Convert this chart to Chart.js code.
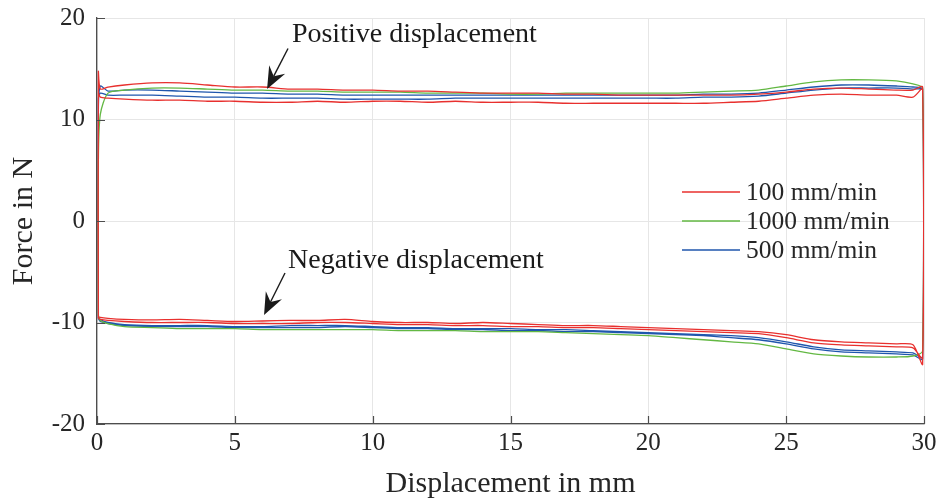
<!DOCTYPE html>
<html>
<head>
<meta charset="utf-8">
<script src="https://cdn.jsdelivr.net/npm/chart.js@4.4.1/dist/chart.umd.min.js"></script>
<style>
  html, body { margin: 0; padding: 0; background: #fff; }
  #wrap { width: 941px; height: 502px; }
</style>
</head>
<body>
<div id="wrap"><canvas id="forceChart"></canvas></div>
<script>
// displacement samples (mm), shared by every curve
const xs = [0.05, 0.12, 0.4, 1, 2, 3, 4, 5, 6, 7, 8, 9, 10, 11, 12, 13, 14, 15, 16, 17, 18, 19, 20,
  21, 22, 23, 24, 25, 26, 27, 28, 29, 29.6, 29.95];

// force (N) while moving forward (positive displacement) and back (negative displacement)
const redPushA = [14.7, 13.0, 13.2, 13.4, 13.6, 13.6, 13.4, 13.2, 13.2, 13.0, 13.0, 12.9, 12.9, 12.8, 12.8, 12.7, 12.6,
  12.6, 12.6, 12.5, 12.5, 12.4, 12.4, 12.4, 12.4, 12.4, 12.5, 12.7, 13.0, 13.1, 13.0, 12.9, 12.9, 13.2];
const redPullA = [-9.4, -9.5, -9.6, -9.7, -9.75, -9.7, -9.8, -9.9, -9.85, -9.8, -9.8, -9.7, -9.9, -10.0, -10.0, -10.1, -10.0,
  -10.1, -10.2, -10.3, -10.3, -10.4, -10.5, -10.6, -10.7, -10.8, -10.9, -11.2, -11.7, -11.9, -12.0, -12.1, -12.2, -14.1];
const redPushB = [12.6, 12.2, 12.1, 12.0, 11.9, 11.9, 11.8, 11.8, 11.7, 11.7, 11.8, 11.7, 11.8, 11.8, 11.7, 11.8, 11.7,
  11.7, 11.7, 11.6, 11.6, 11.6, 11.6, 11.6, 11.6, 11.7, 11.8, 12.1, 12.4, 12.5, 12.4, 12.4, 12.2, 13.0];
const redPullB = [-9.6, -9.7, -9.8, -9.9, -10.0, -10.0, -10.0, -10.1, -10.1, -10.1, -10.0, -10.0, -10.1, -10.2, -10.2, -10.3, -10.3,
  -10.4, -10.4, -10.5, -10.5, -10.6, -10.7, -10.8, -10.9, -11.0, -11.1, -11.5, -12.0, -12.2, -12.3, -12.4, -12.5, -13.5];

const greenPush = [6.0, 10.5, 12.6, 12.9, 13.1, 13.1, 13.0, 12.9, 12.9, 12.8, 12.8, 12.7, 12.7, 12.7, 12.6, 12.6, 12.6,
  12.5, 12.5, 12.6, 12.6, 12.6, 12.6, 12.6, 12.7, 12.8, 12.9, 13.3, 13.7, 13.9, 13.9, 13.8, 13.5, 13.1];
const greenPull = [-9.3, -9.8, -10.1, -10.4, -10.5, -10.6, -10.6, -10.6, -10.7, -10.7, -10.7, -10.7, -10.7, -10.8, -10.8, -10.8, -10.9,
  -10.9, -10.9, -11.0, -11.1, -11.2, -11.3, -11.5, -11.7, -11.9, -12.1, -12.6, -13.1, -13.3, -13.4, -13.4, -13.3, -12.8];

const bluePushA = [11.0, 13.3, 12.8, 12.9, 12.9, 12.8, 12.7, 12.6, 12.6, 12.5, 12.5, 12.4, 12.4, 12.4, 12.4, 12.4, 12.4,
  12.4, 12.4, 12.4, 12.4, 12.4, 12.4, 12.4, 12.5, 12.5, 12.6, 12.9, 13.2, 13.4, 13.4, 13.3, 13.2, 13.0];
const bluePullA = [-9.4, -9.7, -10.0, -10.2, -10.3, -10.3, -10.3, -10.4, -10.4, -10.3, -10.3, -10.3, -10.4, -10.5, -10.5, -10.6, -10.6,
  -10.6, -10.7, -10.7, -10.8, -10.9, -11.0, -11.1, -11.2, -11.3, -11.5, -11.9, -12.4, -12.7, -12.8, -12.9, -13.0, -13.4];
const bluePushB = [12.0, 12.6, 12.4, 12.4, 12.4, 12.3, 12.2, 12.2, 12.1, 12.1, 12.1, 12.0, 12.0, 12.0, 12.0, 12.1, 12.1,
  12.1, 12.1, 12.1, 12.1, 12.1, 12.1, 12.1, 12.2, 12.2, 12.3, 12.6, 12.9, 13.1, 13.1, 13.1, 13.0, 12.9];
const bluePullB = [-9.6, -9.9, -10.1, -10.3, -10.4, -10.4, -10.4, -10.5, -10.5, -10.5, -10.5, -10.4, -10.5, -10.6, -10.6, -10.7, -10.7,
  -10.8, -10.8, -10.9, -10.9, -11.0, -11.1, -11.2, -11.3, -11.5, -11.7, -12.1, -12.6, -12.9, -13.0, -13.1, -13.2, -13.6];

const labels = ['100 mm/min', '1000 mm/min', '500 mm/min'];
const colors = ['#e8302e', '#63b843', '#1f56ad'];

const SERIF = "'Liberation Serif', 'Times New Roman', serif";
const TEXT = '#262626';
const AXIS = '#4d4d4d';

// forward pass then return pass, for each cycle; starts where the last return ends so the loop closes
function loop(cycles) {
  const last = cycles[cycles.length - 1][1];
  const pts = [{ x: xs[0], y: last[0] }];
  cycles.forEach(([push, pull]) => {
    xs.forEach((x, i) => pts.push({ x, y: push[i] }));
    for (let i = xs.length - 1; i >= 0; i--) pts.push({ x: xs[i], y: pull[i] });
  });
  return pts;
}

const curves = [
  loop([[redPushA, redPullA], [redPushB, redPullB]]),
  loop([[greenPush, greenPull]]),
  loop([[bluePushA, bluePullA], [bluePushB, bluePullB]]),
];

// ticks pointing into the plot, matlab style
const inwardTicks = {
  id: 'inwardTicks',
  afterDraw(chart) {
    const { ctx, chartArea, scales } = chart;
    ctx.save();
    ctx.strokeStyle = AXIS;
    ctx.lineWidth = 1.2;
    ctx.beginPath();
    scales.x.ticks.forEach((t) => {
      const px = Math.round(scales.x.getPixelForValue(t.value)) + 0.5;
      ctx.moveTo(px, chartArea.bottom);
      ctx.lineTo(px, chartArea.bottom - 8);
    });
    scales.y.ticks.forEach((t) => {
      const py = Math.round(scales.y.getPixelForValue(t.value)) + 0.5;
      ctx.moveTo(chartArea.left, py);
      ctx.lineTo(chartArea.left + 8, py);
    });
    ctx.stroke();
    ctx.restore();
  },
};

const notes = [
  { text: 'Positive displacement', at: [7.07, 17.64], tail: [6.93, 17.0], tip: [6.17, 13.0] },
  { text: 'Negative displacement', at: [6.93, -4.63], tail: [6.82, -5.12], tip: [6.06, -9.26] },
];

const annotations = {
  id: 'annotations',
  afterDatasetsDraw(chart) {
    const { ctx, scales } = chart;
    ctx.save();
    ctx.font = `28px ${SERIF}`;
    ctx.fillStyle = '#1a1a1a';
    ctx.strokeStyle = '#1a1a1a';
    ctx.textAlign = 'left';
    ctx.textBaseline = 'alphabetic';
    notes.forEach((n) => {
      ctx.fillText(n.text, scales.x.getPixelForValue(n.at[0]), scales.y.getPixelForValue(n.at[1]));
      const x0 = scales.x.getPixelForValue(n.tail[0]);
      const y0 = scales.y.getPixelForValue(n.tail[1]);
      const x1 = scales.x.getPixelForValue(n.tip[0]);
      const y1 = scales.y.getPixelForValue(n.tip[1]);
      const len = Math.hypot(x1 - x0, y1 - y0);
      const ux = (x1 - x0) / len, uy = (y1 - y0) / len;
      const nx = -uy, ny = ux;
      const L = 22, W = 9;
      const bx = x1 - L * ux, by = y1 - L * uy;
      const kx = x1 - 0.66 * L * ux, ky = y1 - 0.66 * L * uy;
      ctx.lineWidth = 1.4;
      ctx.beginPath();
      ctx.moveTo(x0, y0);
      ctx.lineTo(kx, ky);
      ctx.stroke();
      ctx.beginPath();
      ctx.moveTo(x1, y1);
      ctx.lineTo(bx + W * nx, by + W * ny);
      ctx.lineTo(kx, ky);
      ctx.lineTo(bx - W * nx, by - W * ny);
      ctx.closePath();
      ctx.fill();
    });
    ctx.restore();
  },
};

const legendBox = {
  id: 'legendBox',
  afterDatasetsDraw(chart) {
    const { ctx } = chart;
    ctx.save();
    ctx.font = `25.5px ${SERIF}`;
    ctx.textAlign = 'left';
    ctx.textBaseline = 'middle';
    chart.data.datasets.forEach((ds, i) => {
      const y = 192 + i * 29;
      ctx.strokeStyle = ds.borderColor;
      ctx.lineWidth = 1.3;
      ctx.beginPath();
      ctx.moveTo(682, y);
      ctx.lineTo(740, y);
      ctx.stroke();
      ctx.fillStyle = TEXT;
      ctx.fillText(ds.label, 746, y + 1);
    });
    ctx.restore();
  },
};

new Chart(document.getElementById('forceChart'), {
  type: 'scatter',
  data: {
    datasets: curves.map((pts, i) => ({
      label: labels[i],
      data: pts,
      showLine: true,
      borderColor: colors[i],
      backgroundColor: colors[i],
      borderWidth: 1.3,
      pointRadius: 0,
      tension: 0.25,
      fill: false,
    })),
  },
  options: {
    responsive: true,
    maintainAspectRatio: false,
    animation: false,
    layout: { padding: { left: 0, right: 17, top: 18, bottom: 0 } },
    plugins: {
      legend: { display: false },
      tooltip: { enabled: false },
    },
    scales: {
      x: {
        type: 'linear',
        min: 0,
        max: 30,
        ticks: { stepSize: 5, padding: 4, color: TEXT, font: { family: SERIF, size: 25 } },
        grid: { color: '#e6e6e6', drawTicks: false },
        border: { color: AXIS, width: 1.3 },
        title: {
          display: true,
          text: 'Displacement in mm',
          color: TEXT,
          font: { family: SERIF, size: 30, lineHeight: 1.2 },
          padding: { top: 0, bottom: 0 },
        },
        afterFit: (scale) => { scale.height = 78; },
      },
      y: {
        type: 'linear',
        min: -20,
        max: 20,
        ticks: { stepSize: 10, padding: 12, color: TEXT, font: { family: SERIF, size: 25 } },
        grid: { color: '#e6e6e6', drawTicks: false },
        border: { color: AXIS, width: 1.3 },
        title: {
          display: true,
          text: 'Force in N',
          color: TEXT,
          font: { family: SERIF, size: 30, lineHeight: 1.2 },
          padding: { top: 6, bottom: 0 },
        },
        afterFit: (scale) => {
          scale.width = 97;
          scale.paddingTop = 0;
          scale.paddingBottom = 0;
        },
      },
    },
  },
  plugins: [inwardTicks, annotations, legendBox],
});
</script>
</body>
</html>
